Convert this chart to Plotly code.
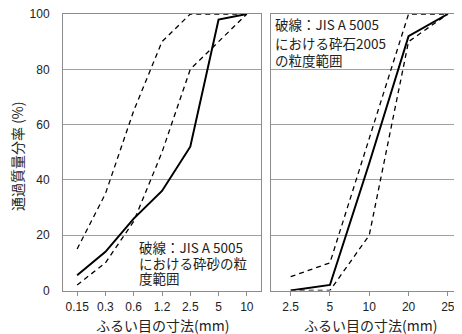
import plotly.graph_objects as go

# page body has an 8px margin; the figure is sized to fill the rest of the window
OFF = 8
W, H = 462 - OFF, 334 - OFF

# ---- data ----
sand_sizes = ["0.15", "0.3", "0.6", "1.2", "2.5", "5", "10"]
sand_measured = [5.5, 14, 26, 36, 52, 98, 100]
sand_upper = [15, 35, 65, 90, 100, 100, 100]
sand_lower = [2, 10, 25, 50, 80, 90, 100]

stone_sizes = ["2.5", "5", "10", "20", "25"]
stone_measured = [0, 2, 46, 92, 100]
stone_upper = [5, 10, 55, 100, 100]
stone_lower = [0, 0, 20, 90, 100]

y_ticks = [0, 20, 40, 60, 80, 100]

y_title = "通過質量分率 (%)"
x_title = "ふるい目の寸法(mm)"
note_sand = ["破線：JIS A 5005", "における砕砂の粒", "度範囲"]
note_stone = ["破線：JIS A 5005", "における砕石2005", "の粒度範囲"]

JP = "Noto Sans CJK JP"
LAT = "Liberation Sans, Arial"

fig = go.Figure()

def add_set(xs, meas, up, lo, xa, ya):
    for vals in (up, lo):
        fig.add_trace(go.Scatter(x=xs, y=vals, mode="lines", xaxis=xa, yaxis=ya,
                                 line=dict(color="black", width=1.3, dash="5px,4px"),
                                 showlegend=False, hoverinfo="skip"))
    fig.add_trace(go.Scatter(x=xs, y=meas, mode="lines", xaxis=xa, yaxis=ya,
                             line=dict(color="black", width=2),
                             showlegend=False, hoverinfo="skip"))

add_set(sand_sizes, sand_measured, sand_upper, sand_lower, "x", "y")
add_set(stone_sizes, stone_measured, stone_upper, stone_lower, "x2", "y2")

def px(x):
    return (x - OFF) / W

def py(y):
    return 1 - (y - OFF) / H

grid = "#a0a0a0"
axl = "#8c8c8c"
ydom = [py(290.5), py(14)]

common_x = dict(type="category", showgrid=False, showline=True, linecolor=axl, linewidth=1,
                mirror=True, ticks="outside", ticklen=4, tickcolor=axl, automargin=False,
                ticklabelstandoff=1, ticklabeloverflow="allow",
                tickfont=dict(family=LAT, size=12, color="#222"), fixedrange=True)
common_y = dict(range=[0, 100], tickvals=y_ticks, showgrid=True, gridcolor=grid, gridwidth=1,
                zeroline=False, showline=True, linecolor=axl, linewidth=1, automargin=False,
                ticklabeloverflow="allow", ticklabelstandoff=10,
                tickfont=dict(family=LAT, size=12, color="#222"), fixedrange=True)

fig.update_layout(
    width=W, height=H, autosize=False,
    margin=dict(l=0, r=0, t=0, b=0, pad=0, autoexpand=False),
    paper_bgcolor="white", plot_bgcolor="white",
    xaxis=dict(domain=[px(63), px(261)], range=[-0.5, 6.5], anchor="y", **common_x),
    yaxis=dict(domain=ydom, anchor="x", mirror=True, **common_y),
    xaxis2=dict(domain=[px(271), 1.0], range=[-0.5, 4.36], anchor="y2", **common_x),
    yaxis2=dict(domain=ydom, anchor="x2", showticklabels=False, mirror=False, **common_y),
)

ann = []
ann.append(dict(text=y_title, x=px(17), y=py(156), xref="paper", yref="paper",
                textangle=-90, showarrow=False, xanchor="center", yanchor="middle",
                font=dict(family=JP, size=14, color="#222")))
ann.append(dict(text=x_title, x=px(162), y=py(325), xref="paper", yref="paper",
                showarrow=False, xanchor="center", yanchor="middle",
                font=dict(family=JP, size=14, color="#222")))
ann.append(dict(text=x_title, x=px(370), y=py(325), xref="paper", yref="paper",
                showarrow=False, xanchor="center", yanchor="middle",
                font=dict(family=JP, size=14, color="#222")))
for t, yy in zip(note_sand, [247, 263, 278]):
    ann.append(dict(text=t, x=px(137), y=py(yy), xref="paper", yref="paper",
                    showarrow=False, xanchor="left", yanchor="middle",
                    font=dict(family=JP, size=13.5, color="#222")))
for t, yy in zip(note_stone, [24, 43, 60]):
    ann.append(dict(text=t, x=px(273), y=py(yy), xref="paper", yref="paper",
                    showarrow=False, xanchor="left", yanchor="middle",
                    font=dict(family=JP, size=13.5, color="#222")))
fig.update_layout(annotations=ann)

fig.write_html("out.html")
